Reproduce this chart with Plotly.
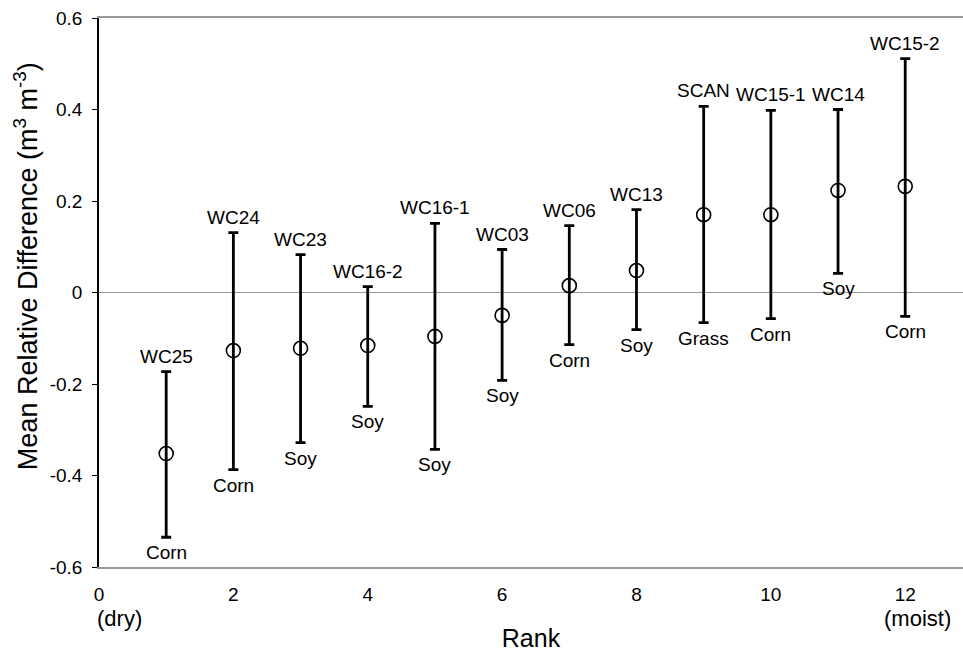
import plotly.graph_objects as go

rank = [1, 2, 3, 4, 5, 6, 7, 8, 9, 10, 11, 12]
mean_rd = [-0.352, -0.127, -0.122, -0.116, -0.096, -0.050, 0.015, 0.048, 0.170, 0.170, 0.223, 0.232]
upper = [-0.173, 0.131, 0.083, 0.013, 0.151, 0.094, 0.146, 0.181, 0.407, 0.398, 0.400, 0.511]
lower = [-0.535, -0.387, -0.328, -0.249, -0.343, -0.192, -0.114, -0.081, -0.066, -0.057, 0.042, -0.052]
site = ["WC25", "WC24", "WC23", "WC16-2", "WC16-1", "WC03", "WC06", "WC13", "SCAN", "WC15-1", "WC14", "WC15-2"]
crop = ["Corn", "Corn", "Soy", "Soy", "Soy", "Soy", "Corn", "Soy", "Grass", "Corn", "Soy", "Corn"]
y_ticks = [0.6, 0.4, 0.2, 0, -0.2, -0.4, -0.6]
y_ticktext = ["0.6", "0.4", "0.2", "0", "-0.2", "-0.4", "-0.6"]
x_ticks = [0, 2, 4, 6, 8, 10, 12]
x_ticktext = ["0", "2", "4", "6", "8", "10", "12"]
y_title = "Mean Relative Difference (m<sup>3</sup> m<sup>-3</sup>)"
x_title = "Rank"

FONT = "Liberation Sans, Arial, sans-serif"

err_plus = [u - m for u, m in zip(upper, mean_rd)]
err_minus = [m - l for m, l in zip(mean_rd, lower)]

fig = go.Figure()
fig.add_trace(go.Scatter(
    x=rank, y=mean_rd, mode="markers",
    marker=dict(symbol="circle-open", size=14, color="black", line=dict(width=1.6)),
    error_y=dict(type="data", symmetric=False, array=err_plus, arrayminus=err_minus,
                 color="black", thickness=2.8, width=5),
    showlegend=False,
))

for r, u, s in zip(rank, upper, site):
    fig.add_annotation(x=r, y=u, text=s, showarrow=False, yanchor="bottom", yshift=3,
                       font=dict(family=FONT, size=19, color="black"))
for r, l, c in zip(rank, lower, crop):
    fig.add_annotation(x=r, y=l, text=c, showarrow=False, yanchor="top", yshift=-3,
                       font=dict(family=FONT, size=19, color="black"))

fig.add_annotation(x=0, y=0, xref="x", yref="paper", text="(dry)", showarrow=False,
                   xanchor="left", yanchor="top", yshift=-37, xshift=-4,
                   font=dict(family=FONT, size=22, color="black"))
fig.add_annotation(x=12, y=0, xref="x", yref="paper", text="(moist)", showarrow=False,
                   xanchor="center", yanchor="top", yshift=-37, xshift=12,
                   font=dict(family=FONT, size=22, color="black"))

# y-axis title (sits slightly above the axis centre in the reference)
fig.add_annotation(x=-0.0845, y=0.548, xref="paper", yref="paper", text=y_title,
                   showarrow=False, textangle=-90, xanchor="center", yanchor="middle",
                   font=dict(family=FONT, size=27, color="black"))

fig.update_layout(
    width=963, height=652,
    margin=dict(l=99, r=0, t=18, b=85),
    paper_bgcolor="white", plot_bgcolor="white",
    font=dict(family=FONT, size=16, color="black"),
    xaxis=dict(range=[0, 12.86], tickvals=x_ticks, ticktext=x_ticktext,
               showgrid=False, zeroline=False, showline=True, linecolor="#999999",
               linewidth=2, mirror=True, ticks="", ticklabelstandoff=9,
               tickfont=dict(family=FONT, size=19),
               title=dict(text=x_title, font=dict(family=FONT, size=25), standoff=28)),
    yaxis=dict(range=[-0.6, 0.6], tickvals=y_ticks, ticktext=y_ticktext,
               showgrid=False, zeroline=True, zerolinecolor="#999999", zerolinewidth=1,
               showline=True, linecolor="black", linewidth=1.5,
               ticks="outside", ticklen=5, tickcolor="black", tickwidth=1,
               ticklabelstandoff=6,
               tickfont=dict(family=FONT, size=19)),
)

fig.write_html("out.html")
